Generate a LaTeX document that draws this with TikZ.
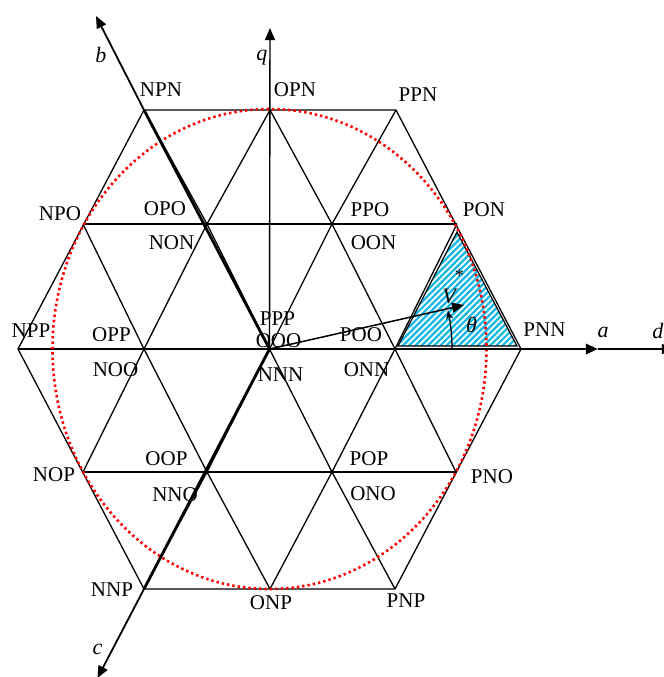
\documentclass[tikz,border=0pt]{standalone}
\usepackage{fontspec}
\setmainfont{Liberation Serif}
\usetikzlibrary{arrows.meta,patterns.meta}
\definecolor{hatchcyan}{RGB}{25,185,230}
\begin{document}
\begin{tikzpicture}[x=0.5pt,y=-0.5pt,
  grid/.style={line width=0.65pt, black},
  boldline/.style={line width=1.4pt, black},
  lbl/.style={inner sep=0pt, font=\fontsize{10.5}{12}\selectfont},
  axlbl/.style={inner sep=0pt, font=\fontsize{11}{12}\selectfont\itshape},
  tipped/.style={-{Triangle[length=6pt,width=5pt]}},
  ellip/.style={red, line width=1.3pt, dash pattern=on 1.2pt off 1.5pt}
]
\clip (0,0) rectangle (664,677);
% grid points
\coordinate (t1) at (144,110);
\coordinate (t2) at (270,110);
\coordinate (t3) at (396,110);
\coordinate (u1) at (83,224);
\coordinate (u2) at (207,224);
\coordinate (u3) at (332,224);
\coordinate (u4) at (457,224);
\coordinate (m1) at (18,349);
\coordinate (m2) at (144,349);
\coordinate (O)  at (269.5,349);
\coordinate (m4) at (395,349);
\coordinate (m5) at (521,349);
\coordinate (l1) at (83,472);
\coordinate (l2) at (207,472);
\coordinate (l3) at (332,472);
\coordinate (l4) at (456,472);
\coordinate (b1) at (144,589);
\coordinate (b2) at (270,589);
\coordinate (b3) at (395,589);
% axis tips
\coordinate (atip) at (598,349);
\coordinate (dtip) at (674,349);
\coordinate (qtip) at (270,28);
\coordinate (btip) at (96,16);
\coordinate (ctip) at (97.5,678);
\coordinate (vtip) at (464,305);
% hatched sector triangle
\coordinate (h1) at (398,346);
\coordinate (h2) at (457,232);
\coordinate (h3) at (517,346);
\path[fill=hatchcyan, postaction={pattern={Lines[angle=45,distance=2.2pt,line width=0.9pt]}, pattern color=white}] (h1) -- (h2) -- (h3) -- cycle;
\draw[line width=0.6pt] (h1) -- (h2) -- (h3) -- cycle;
% hexagon and grid
\draw[grid] (t1) -- (t3) -- (m5) -- (b3) -- (b1) -- (m1) -- cycle;
\draw[grid] (u1) -- (u4);
\draw[grid] (m1) -- (m5);
\draw[grid] (l1) -- (l4);
\draw[grid] (t1) -- (u2) -- (O) -- (l3) -- (b3);
\draw[grid] (t2) -- (u3) -- (m4) -- (l4);
\draw[grid] (u1) -- (m2) -- (l2) -- (b2);
\draw[grid] (t3) -- (u3) -- (O) -- (l2) -- (b1);
\draw[grid] (t2) -- (u2) -- (m2) -- (l1);
\draw[grid] (u4) -- (m4) -- (l3) -- (b2);
% dotted ellipse
\draw[ellip] (O) ellipse [x radius=217, y radius=240];
% axes
\draw[boldline] (O) -- (t1);
\draw[boldline] (O) -- (b1);
\draw[line width=0.9pt, tipped] (t1) -- (btip);
\draw[line width=0.9pt, tipped] (b1) -- (ctip);
\draw[line width=0.7pt, tipped] (O) -- (qtip);
\draw[boldline, tipped] (O) -- (atip);
\draw[line width=0.65pt, tipped] (atip) -- (dtip);
% reference vector and angle
\draw[line width=0.75pt, tipped] (O) -- (vtip);
\draw[line width=0.65pt, -{Stealth[length=4.5pt,width=3.5pt]}] (452,349) arc[start angle=0, end angle=-12.2, radius=182.5];
% axis labels
\node[axlbl] (la) at (603,332) {a};
\node[axlbl] (ld) at (658,331) {d};
\node[axlbl] (lq) at (262,58) {q};
\node[axlbl] (lb) at (101,55) {b};
\node[axlbl] (lc) at (97.5,649) {c};
\node[axlbl] (lV) at (449,296) {V};
\node[inner sep=0pt, font=\fontsize{9}{10}\selectfont] (lstar) at (459.5,276) {*};
\node[axlbl] (lth) at (471.5,325) {θ};
% state labels
\node[lbl] (NPN) at (161,90) {NPN};
\node[lbl] (OPN) at (295,90) {OPN};
\node[lbl] (PPN) at (418,94.5) {PPN};
\node[lbl] (NPO) at (60,214) {NPO};
\node[lbl] (OPO) at (165,209) {OPO};
\node[lbl] (PPO) at (370,209.5) {PPO};
\node[lbl] (PON) at (484,210) {PON};
\node[lbl] (NON) at (171.5,242.5) {NON};
\node[lbl] (OON) at (373.5,242.5) {OON};
\node[lbl] (NPP) at (31,330.5) {NPP};
\node[lbl] (OPP) at (111.5,334.5) {OPP};
\node[lbl] (PPP) at (277.5,318.5) {PPP};
\node[lbl] (OOO) at (278.5,340.5) {OOO};
\node[lbl] (POO) at (361,335) {POO};
\node[lbl] (PNN) at (544.5,330) {PNN};
\node[lbl] (NOO) at (115.5,369.5) {NOO};
\node[lbl] (NNN) at (280.5,374.5) {NNN};
\node[lbl] (ONN) at (366.5,369.5) {ONN};
\node[lbl] (OOP) at (166.5,458.5) {OOP};
\node[lbl] (POP) at (369,458.5) {POP};
\node[lbl] (NOP) at (54,474.5) {NOP};
\node[lbl] (NNO) at (175,494.5) {NNO};
\node[lbl] (ONO) at (373,494) {ONO};
\node[lbl] (PNO) at (492,476.5) {PNO};
\node[lbl] (NNP) at (112,589.5) {NNP};
\node[lbl] (ONP) at (271,602.5) {ONP};
\node[lbl] (PNP) at (406,600.5) {PNP};
\end{tikzpicture}
\end{document}
